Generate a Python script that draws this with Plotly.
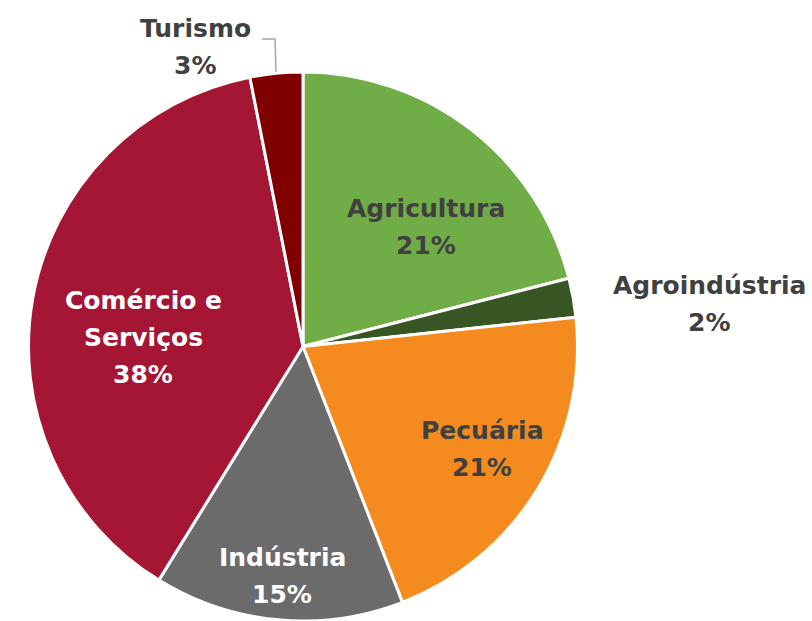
import plotly.graph_objects as go

setores = ["Agricultura", "Agroindústria", "Pecuária", "Indústria", "Comércio e<br>Serviços", "Turismo"]
valores = [21.0, 2.3, 20.8, 14.7, 38.1, 3.1]
rotulos_pct = ["21%", "2%", "21%", "15%", "38%", "3%"]
cores = ["#70AD47", "#375623", "#F58B1F", "#6B6B6B", "#A51634", "#800000"]
cor_texto = ["#404040", "#404040", "#404040", "white", "white", "#404040"]
# centro de cada bloco de rótulo (fração do papel)
rotulo_x = [426 / 812, 709 / 812, 482 / 812, 282 / 812, 143 / 812, 195 / 812]
rotulo_y = [1 - 227 / 621, 1 - 304 / 621, 1 - 449 / 621, 1 - 576 / 621, 1 - 337 / 621, 1 - 47 / 621]

W, H = 812, 621
fig = go.Figure(go.Pie(
    labels=setores,
    values=valores,
    textinfo="none",
    sort=False,
    direction="clockwise",
    rotation=0,
    marker=dict(colors=cores, line=dict(color="white", width=3)),
    domain=dict(x=[28 / W, 578 / W], y=[0.0, 1 - 72 / H]),
    showlegend=False,
    hoverinfo="label+percent",
))

# rótulos, uma anotação por linha para controlar o espaçamento
passo = 37
for nome, pct, x, y, cor in zip(setores, rotulos_pct, rotulo_x, rotulo_y, cor_texto):
    linhas = nome.split("<br>") + [pct]
    n = len(linhas)
    for i, linha in enumerate(linhas):
        fig.add_annotation(
            x=x, y=y, xref="paper", yref="paper",
            xanchor="center", yanchor="middle",
            text="<b>" + linha + "</b>",
            showarrow=False,
            yshift=((n - 1) / 2 - i) * passo,
            font=dict(family="DejaVu Sans", size=25, color=cor),
        )

# linha de chamada do Turismo
fig.add_shape(
    type="path", xref="paper", yref="paper",
    path=f"M {262 / W} {1 - 39 / H} L {275 / W} {1 - 39 / H} L {276 / W} {1 - 72 / H}",
    line=dict(color="#A6A6A6", width=1.5),
)

fig.update_layout(
    width=W, height=H,
    margin=dict(l=0, r=0, t=0, b=0),
    paper_bgcolor="white",
    font_family="DejaVu Sans",
)

fig.write_html("out.html", config={"displayModeBar": False},
               post_script="document.body.style.margin='0';")
